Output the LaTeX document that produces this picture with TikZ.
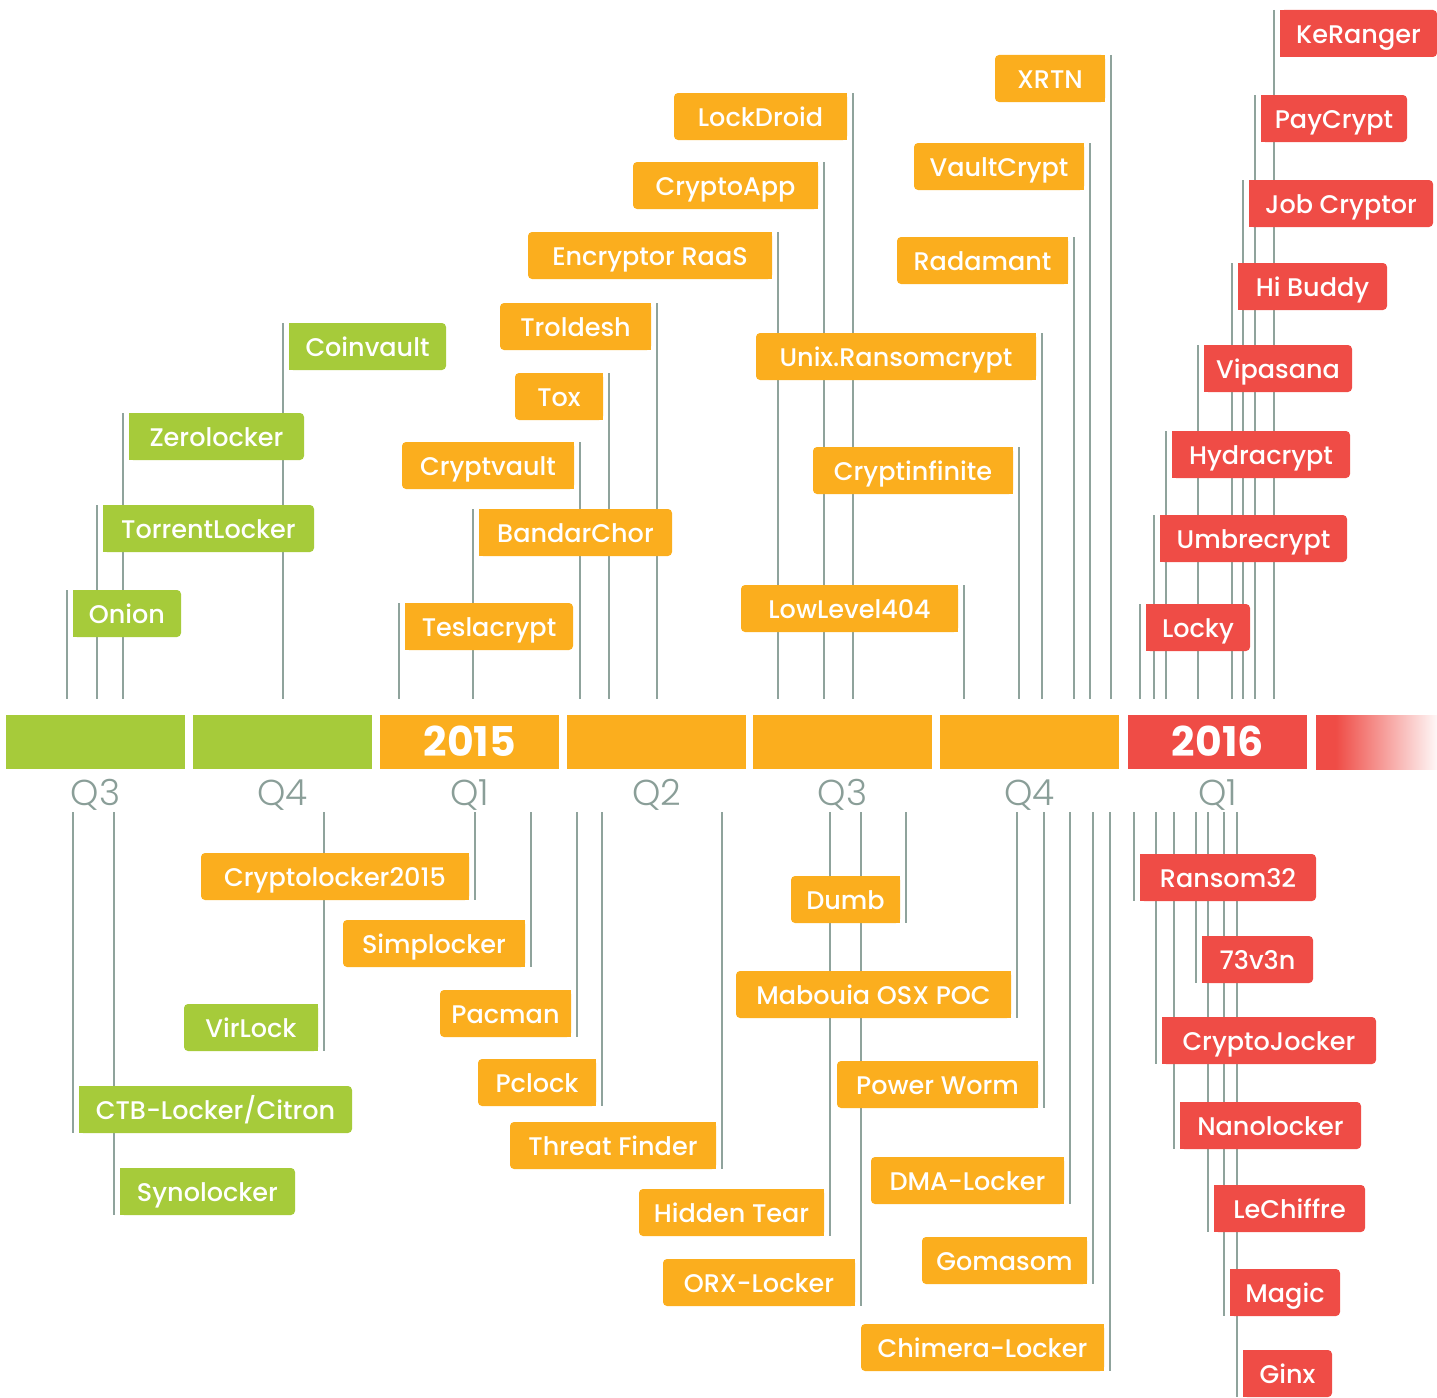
\documentclass[tikz,border=0pt]{standalone}
\usepackage{fontspec}
\setmainfont{Poppins}[UprightFont=* Medium, BoldFont=* Bold]
\newfontfamily\qfont{Poppins Light}
\usetikzlibrary{backgrounds}

\definecolor{tgreen}{HTML}{A6CB3A}
\definecolor{torange}{HTML}{FBAE1E}
\definecolor{tred}{HTML}{EF4C46}
\definecolor{tline}{HTML}{8FA39C}
\definecolor{tq}{HTML}{8A9E98}

\pgfdeclarehorizontalshading{redfade}{100bp}{color(0bp)=(tred); color(33bp)=(tred); color(75bp)=(tred!4); color(100bp)=(tred!4)}

\begin{document}
\begin{tikzpicture}[x=1pt, y=-1pt,
    tag/.style={rounded corners=4pt, inner sep=0pt, outer xsep=6pt, outer ysep=0pt,
        minimum height=47pt, text=white, text height=20pt, text depth=0pt,
        font=\fontsize{25.5}{30}\selectfont},
    upL/.style={tag, anchor=north west},
    upR/.style={tag, anchor=north east},
    dnL/.style={tag, anchor=south west},
    dnR/.style={tag, anchor=south east},
    vline/.style={draw=tline, line width=2pt},
    seg/.style={anchor=north west, inner sep=0pt, minimum height=54pt, minimum width=179pt},
    year/.style={text=white, inner sep=0pt, text height=29pt, text depth=0pt,
        font=\fontsize{41}{46}\selectfont\bfseries},
    qlab/.style={text=tq, inner sep=0pt, text height=25pt, text depth=0pt,
        font=\qfont\fontsize{36}{40}\selectfont}]
    \useasboundingbox (0,0) rectangle (1437,1397);

    % line ends next to the bar
    \coordinate (topend) at (0,699);
    \coordinate (botend) at (0,812);

    % the bar
    \node[seg, fill=tgreen] (s1) at (6,715) {};
    \node[seg, fill=tgreen] (s2) at (193,715) {};
    \node[seg, fill=torange] (s3) at (380,715) {};
    \node[seg, fill=torange] (s4) at (567,715) {};
    \node[seg, fill=torange] (s5) at (753,715) {};
    \node[seg, fill=torange] (s6) at (940,715) {};
    \node[seg, fill=tred] (s7) at (1128,715) {};
    \node[seg, minimum width=121pt, shade, shading=redfade] (s8) at (1316,715) {};

    \node[year] (y2015) at (s3.center) {2015};
    \node[year] (y2016) at (s7.center) {2016};

    % quarters
    \node[qlab] (q1) at ([yshift=-24pt]s1.south) {Q3};
    \node[qlab] (q2) at ([yshift=-24pt]s2.south) {Q4};
    \node[qlab] (q3) at ([yshift=-24pt]s3.south) {Q1};
    \node[qlab] (q4) at ([yshift=-24pt]s4.south) {Q2};
    \node[qlab] (q5) at ([yshift=-24pt]s5.south) {Q3};
    \node[qlab] (q6) at ([yshift=-24pt]s6.south) {Q4};
    \node[qlab] (q7) at ([yshift=-24pt]s7.south) {Q1};

    % 2014, above
    \node[upL, fill=tgreen, minimum width=108pt] (onion) at (67,590) {Onion};
    \node[upL, fill=tgreen, minimum width=211pt] (torrent) at (97,505) {TorrentLocker};
    \node[upL, fill=tgreen, minimum width=175pt] (zero) at (123,413) {Zerolocker};
    \node[upL, fill=tgreen, minimum width=157pt] (coin) at (283,323) {Coinvault};

    % 2014, below
    \node[dnL, fill=tgreen, minimum width=273pt] (ctb) at (73,1133) {CTB-Locker/Citron};
    \node[dnL, fill=tgreen, minimum width=175pt] (syno) at (114,1215) {Synolocker};
    \node[dnR, fill=tgreen, minimum width=134pt] (virl) at (324,1051) {VirLock};

    % 2015, above
    \node[upL, fill=torange, minimum width=168pt] (tesla) at (399,603) {Teslacrypt};
    \node[upL, fill=torange, minimum width=193pt] (bandar) at (473,509) {BandarChor};
    \node[upR, fill=torange, minimum width=172pt] (cvault) at (580,442) {Cryptvault};
    \node[upR, fill=torange, minimum width=88pt] (tox) at (609,373) {Tox};
    \node[upR, fill=torange, minimum width=151pt] (trold) at (657,303) {Troldesh};
    \node[upR, fill=torange, minimum width=244pt] (encr) at (778,232) {Encryptor RaaS};
    \node[upR, fill=torange, minimum width=185pt] (capp) at (824,162) {CryptoApp};
    \node[upR, fill=torange, minimum width=173pt] (ldroid) at (853,93) {LockDroid};
    \node[upR, fill=torange, minimum width=280pt] (unix) at (1042,333) {Unix.Ransomcrypt};
    \node[upR, fill=torange, minimum width=200pt] (cinf) at (1019,447) {Cryptinfinite};
    \node[upR, fill=torange, minimum width=217pt] (low) at (964,585) {LowLevel404};
    \node[upR, fill=torange, minimum width=171pt] (radam) at (1074,237) {Radamant};
    \node[upR, fill=torange, minimum width=170pt] (vcrypt) at (1090,143) {VaultCrypt};
    \node[upR, fill=torange, minimum width=110pt] (xrtn) at (1111,55) {XRTN};

    % 2015, below
    \node[dnR, fill=torange, minimum width=268pt] (cl2015) at (475,900) {Cryptolocker2015};
    \node[dnR, fill=torange, minimum width=182pt] (simpl) at (531,967) {Simplocker};
    \node[dnR, fill=torange, minimum width=131pt] (pacman) at (577,1037) {Pacman};
    \node[dnR, fill=torange, minimum width=118pt] (pclock) at (602,1106) {Pclock};
    \node[dnR, fill=torange, minimum width=206pt] (threat) at (722,1169) {Threat Finder};
    \node[dnR, fill=torange, minimum width=185pt] (hidden) at (830,1236) {Hidden Tear};
    \node[dnR, fill=torange, minimum width=192pt] (orx) at (861,1306) {ORX-Locker};
    \node[dnR, fill=torange, minimum width=109pt] (dumb) at (906,923) {Dumb};
    \node[dnR, fill=torange, minimum width=275pt] (mabou) at (1017,1018) {Mabouia OSX POC};
    \node[dnR, fill=torange, minimum width=201pt] (pworm) at (1044,1108) {Power Worm};
    \node[dnR, fill=torange, minimum width=193pt] (dma) at (1070,1204) {DMA-Locker};
    \node[dnR, fill=torange, minimum width=165pt] (gomas) at (1093,1284) {Gomasom};
    \node[dnR, fill=torange, minimum width=243pt] (chim) at (1110,1371) {Chimera-Locker};

    % 2016, above
    \node[upL, fill=tred, minimum width=157pt] (keran) at (1274,10) {KeRanger};
    \node[upL, fill=tred, minimum width=146pt] (payc) at (1255,95) {PayCrypt};
    \node[upL, fill=tred, minimum width=184pt] (jobc) at (1243,180) {Job Cryptor};
    \node[upL, fill=tred, minimum width=149pt] (hibud) at (1232,263) {Hi Buddy};
    \node[upL, fill=tred, minimum width=148pt] (vipa) at (1198,345) {Vipasana};
    \node[upL, fill=tred, minimum width=178pt] (hydra) at (1166,431) {Hydracrypt};
    \node[upL, fill=tred, minimum width=187pt] (umbre) at (1154,515) {Umbrecrypt};
    \node[upL, fill=tred, minimum width=104pt] (locky) at (1140,604) {Locky};

    % 2016, below
    \node[dnL, fill=tred, minimum width=176pt] (r32) at (1134,901) {Ransom32};
    \node[dnL, fill=tred, minimum width=111pt] (tevn) at (1196,983) {73v3n};
    \node[dnL, fill=tred, minimum width=214pt] (cjock) at (1156,1064) {CryptoJocker};
    \node[dnL, fill=tred, minimum width=181pt] (nano) at (1174,1149) {Nanolocker};
    \node[dnL, fill=tred, minimum width=151pt] (lechif) at (1208,1232) {LeChiffre};
    \node[dnL, fill=tred, minimum width=110pt] (magic) at (1224,1316) {Magic};
    \node[dnL, fill=tred, minimum width=89pt] (ginx) at (1237,1397) {Ginx};

    % date lines, behind the tags; square corners on the line side
    \begin{scope}[on background layer]
        \foreach \n/\c in {onion/tgreen, torrent/tgreen, zero/tgreen, coin/tgreen,
                tesla/torange, bandar/torange, keran/tred, payc/tred, jobc/tred,
                hibud/tred, vipa/tred, hydra/tred, umbre/tred, locky/tred} {
            \draw[vline] (\n.north west) -- (\n.north west |- topend);
            \fill[\c] ([xshift=6pt]\n.north west) rectangle (\n.south);
        }
        \foreach \n/\c in {cvault/torange, tox/torange, trold/torange, encr/torange,
                capp/torange, ldroid/torange, unix/torange, cinf/torange,
                low/torange, radam/torange, vcrypt/torange, xrtn/torange} {
            \draw[vline] (\n.north east) -- (\n.north east |- topend);
            \fill[\c] ([xshift=-6pt]\n.north east) rectangle (\n.south);
        }
        \foreach \n/\c in {ctb/tgreen, syno/tgreen, r32/tred, tevn/tred, cjock/tred,
                nano/tred, lechif/tred, magic/tred, ginx/tred} {
            \draw[vline] (\n.south west |- botend) -- (\n.south west);
            \fill[\c] ([xshift=6pt]\n.south west) rectangle (\n.north);
        }
        \foreach \n/\c in {virl/tgreen, cl2015/torange, simpl/torange, pacman/torange,
                pclock/torange, threat/torange, hidden/torange, orx/torange,
                dumb/torange, mabou/torange, pworm/torange, dma/torange,
                gomas/torange, chim/torange} {
            \draw[vline] (\n.south east |- botend) -- (\n.south east);
            \fill[\c] ([xshift=-6pt]\n.south east) rectangle (\n.north);
        }
    \end{scope}
\end{tikzpicture}
\end{document}
